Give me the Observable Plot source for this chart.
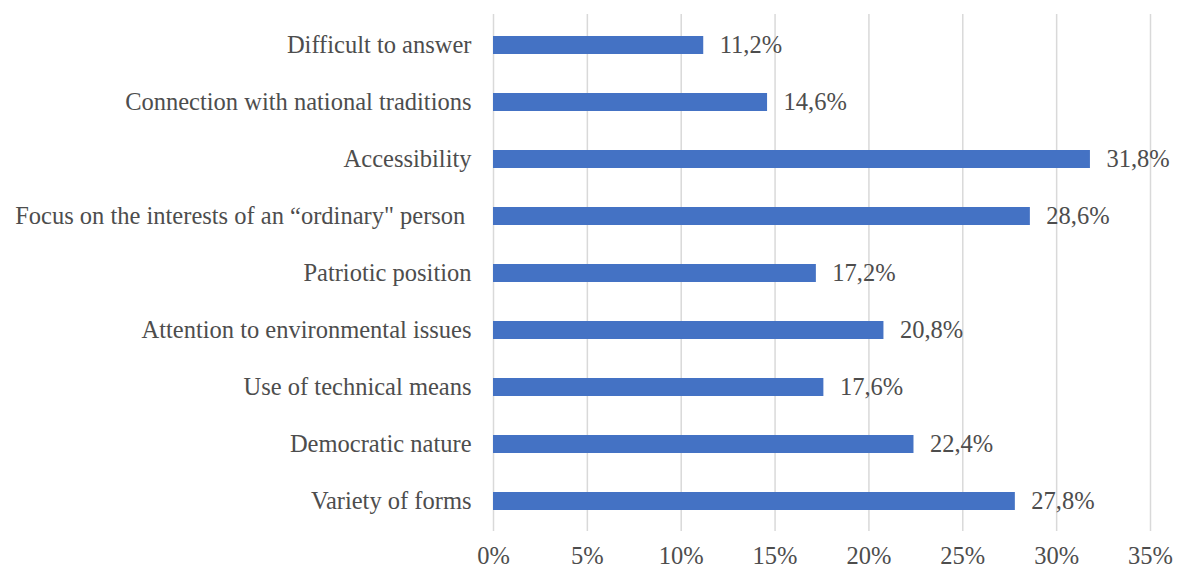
<!DOCTYPE html>
<html>
<head>
<meta charset="utf-8">
<script src="https://cdn.jsdelivr.net/npm/d3@7"></script>
<script src="https://cdn.jsdelivr.net/npm/@observablehq/plot@0.6"></script>
<style>
  html, body { margin: 0; padding: 0; background: #fff; }
  #chart svg { display: block; font-family: "Liberation Serif", "Times New Roman", serif !important; }
  #chart svg text { font-family: "Liberation Serif", "Times New Roman", serif !important; }
</style>
</head>
<body>
<div id="chart"></div>
<script>
const categories = [
  "Difficult to answer",
  "Connection with national traditions",
  "Accessibility",
  "Focus on the interests of an “ordinary\" person ",
  "Patriotic position",
  "Attention to environmental issues",
  "Use of technical means",
  "Democratic nature",
  "Variety of forms"
];
const values = [11.2, 14.6, 31.8, 28.6, 17.2, 20.8, 17.6, 22.4, 27.8];
const xTicks = [0, 5, 10, 15, 20, 25, 30, 35];

const data = categories.map((c, i) => ({category: c, value: values[i]}));
const fmt = v => v.toFixed(1).replace(".", ",") + "%";
const textColor = "#4d4d4d";

const chart = Plot.plot({
  width: 1178,
  height: 569,
  marginLeft: 493,
  marginRight: 28,
  marginTop: 14,
  marginBottom: 38,
  style: {fontSize: "24.5px", color: textColor, background: "#fff"},
  x: {domain: [0, 35], ticks: xTicks, tickFormat: d => d + "%", label: null},
  y: {domain: categories, label: null, paddingInner: 0.69, paddingOuter: 0.35},
  marks: [
    Plot.gridX(xTicks, {stroke: "#d9d9d9", strokeOpacity: 1, strokeWidth: 1.5}),
    Plot.barX(data, {x: "value", y: "category", fill: "#4472C4"}),
    Plot.text(data, {x: "value", y: "category", text: d => fmt(d.value), textAnchor: "start", dx: 16, fill: textColor, fontSize: 24.5}),
    Plot.axisX(xTicks, {tickSize: 0, tickPadding: 15, fontSize: 24.5, fill: textColor, label: null, tickFormat: d => d + "%"}),
    Plot.axisY({tickSize: 0, tickPadding: 22, fontSize: 24.5, fill: textColor, label: null, textOverflow: null})
  ]
});
document.getElementById("chart").appendChild(chart);
</script>
</body>
</html>
